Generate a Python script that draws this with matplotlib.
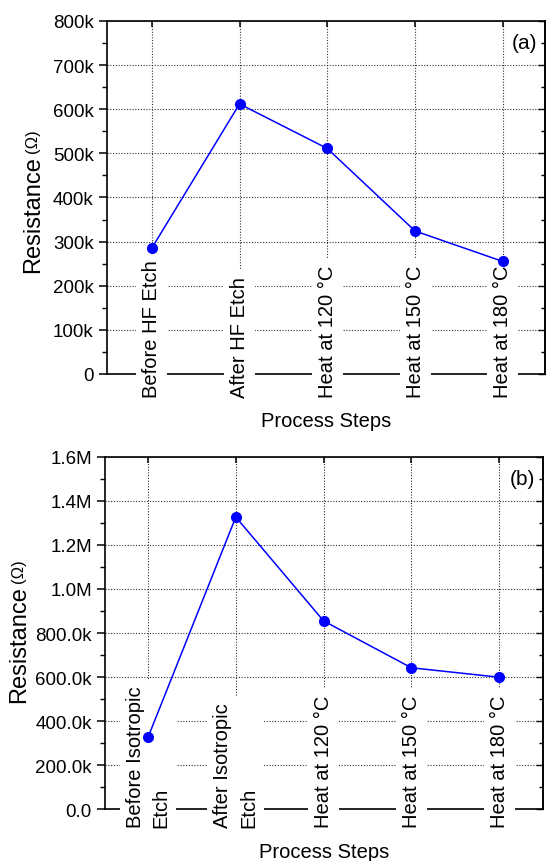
#!/usr/bin/env python3
"""Resistance vs. process step, two stacked panels (a) HF etch, (b) isotropic etch."""

import matplotlib
matplotlib.use('Agg')
import matplotlib.pyplot as plt
from matplotlib.ticker import MultipleLocator
import matplotlib.transforms as mtransforms

plt.rcParams['font.family'] = ['Liberation Sans', 'DejaVu Sans']

# data
steps_a = ['Before HF Etch', 'After HF Etch', 'Heat at 120 °C', 'Heat at 150 °C', 'Heat at 180 °C']
res_a = [285e3, 612e3, 511e3, 324e3, 255e3]
yticks_a = [0, 100e3, 200e3, 300e3, 400e3, 500e3, 600e3, 700e3, 800e3]
ylabels_a = ['0', '100k', '200k', '300k', '400k', '500k', '600k', '700k', '800k']

steps_b = ['Before Isotropic\nEtch', 'After Isotropic\nEtch', 'Heat at 120 °C', 'Heat at 150 °C', 'Heat at 180 °C']
res_b = [326e3, 1327e3, 855e3, 642e3, 599e3]
yticks_b = [0, 200e3, 400e3, 600e3, 800e3, 1.0e6, 1.2e6, 1.4e6, 1.6e6]
ylabels_b = ['0.0', '200.0k', '400.0k', '600.0k', '800.0k', '1.0M', '1.2M', '1.4M', '1.6M']

BLUE = '#0000ff'

fig = plt.figure(figsize=(5.47, 8.62), dpi=100)
ax_a = fig.add_axes([0.1956, 0.565, 0.8007, 0.4095])
ax_b = fig.add_axes([0.192, 0.0603, 0.8007, 0.4084])


def draw_panel(ax, steps, values, yticks, ylabels, minor, xlim, lab_y, tag,
               ylab_x, ylab_y, xlab_y):
    x = list(range(1, len(steps) + 1))
    ax.plot(x, values, color=BLUE, lw=1.1, marker='o', ms=7, mec=BLUE, mfc=BLUE,
            zorder=6, clip_on=False)
    ax.set_xlim(*xlim)
    ax.set_ylim(yticks[0], yticks[-1])
    ax.set_yticks(yticks)
    ax.set_yticklabels(ylabels, fontsize=13.5)
    ax.yaxis.set_minor_locator(MultipleLocator(minor))
    ax.set_xticks(x)
    ax.set_xticklabels([])
    ax.tick_params(axis='y', which='major', direction='out', length=6, width=1.1)
    ax.tick_params(axis='y', which='minor', direction='out', length=3.5, width=1.0)
    ax.tick_params(axis='x', which='both', bottom=False, top=True, direction='in',
                   length=4, width=1.1, labelbottom=False)
    for s in ax.spines.values():
        s.set_linewidth(1.2)

    # right-hand ticks point inward
    sec = ax.secondary_yaxis('right')
    sec.set_yticks(yticks)
    sec.yaxis.set_minor_locator(MultipleLocator(minor))
    sec.tick_params(axis='y', which='major', direction='in', length=5, width=1.0,
                    labelright=False)
    sec.tick_params(axis='y', which='minor', direction='in', length=3, width=1.0)
    sec.spines['right'].set_linewidth(1.2)

    ax.grid(True, which='major', linestyle=(0, (1, 1.5)), color='#333333', lw=0.8)
    ax.set_axisbelow(True)

    # category names sit inside the plot, on a white box
    trans = mtransforms.blended_transform_factory(ax.transData, ax.transAxes)
    for xi, name in zip(x, steps):
        ax.text(xi, lab_y, name, rotation=90, ha='center', va='bottom',
                multialignment='left', linespacing=1.45, fontsize=14.5,
                transform=trans, zorder=4, clip_on=False,
                bbox=dict(boxstyle='square,pad=0.3', fc='white', ec='none'))

    ax.text(0.982, tag[1], tag[0], transform=ax.transAxes, ha='right', va='center',
            fontsize=15, zorder=7)

    ax.text(0.5, xlab_y, 'Process Steps', transform=ax.transAxes, ha='center',
            va='top', fontsize=14.5)

    t = ax.text(ylab_x, ylab_y, 'Resistance', rotation=90, transform=ax.transAxes,
                ha='center', va='bottom', fontsize=17)
    ax.annotate('(Ω)', xy=(0.5, 1.0), xycoords=t, xytext=(0, 2),
                textcoords='offset points', rotation=90, ha='center', va='bottom',
                fontsize=12)


draw_panel(ax_a, steps_a, res_a, yticks_a, ylabels_a, 50e3, (0.49, 5.48), -0.065,
           ('(a)', 0.94), -0.169, 0.289, -0.105)
draw_panel(ax_b, steps_b, res_b, yticks_b, ylabels_b, 100e3, (0.51, 5.50), -0.051,
           ('(b)', 0.9375), -0.197, 0.304, -0.094)

fig.savefig('out.png', dpi=100)
